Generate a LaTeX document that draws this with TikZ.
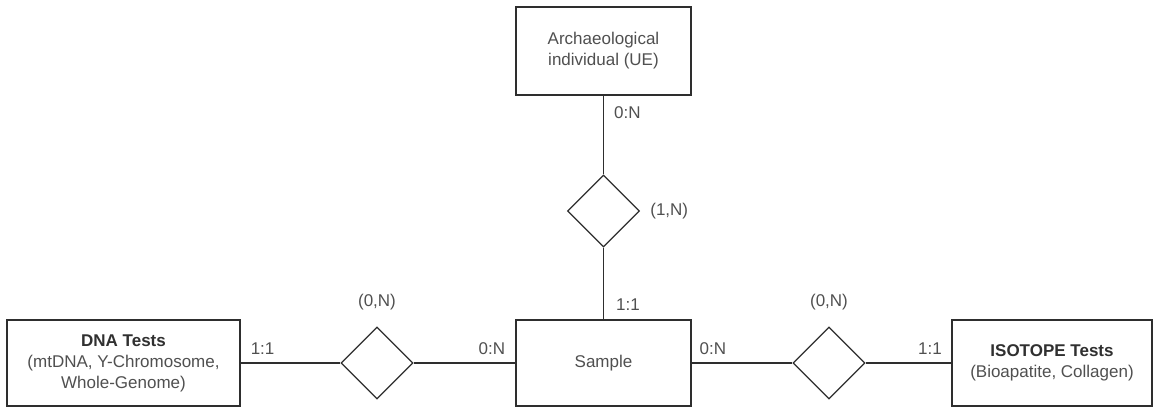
\documentclass[tikz,border=0pt]{standalone}
\usepackage{fontspec}
\setmainfont{Liberation Sans}
\usetikzlibrary{shapes.geometric}
\definecolor{linegray}{HTML}{2E2E2E}
\definecolor{textgray}{HTML}{505050}
\definecolor{titlegray}{HTML}{303030}
\tikzset{ %inner sep = 0.5mm,
  {entity/.style} ={rectangle, draw=linegray, line width=1.3pt, fill=white,
                align=center, text=textgray, inner sep=0,
                font=\fontsize{17}{21}\selectfont},
  {relation/.style} ={diamond, draw=linegray, line width=1.3pt, fill=white,
                inner sep=0, minimum width=72pt, minimum height=72pt},
  {lab/.style} ={text=textgray, inner sep=2pt,
                font=\fontsize{17}{21}\selectfont},
  {link/.style} ={draw=linegray, line width=1.3pt},
 }

\begin{document}
\begin{tikzpicture}[x=1pt,y=1pt]
\useasboundingbox (0,0) rectangle (1154,408);
\node[entity, minimum width=175pt, minimum height=88pt] (ue) at (603.5,357)
    {Archaeological\\individual (UE)};
\node[relation, label={[lab, label distance=8pt]right:(1,N)}] (r1) at (603.5,197) {};
\node[entity, minimum width=175pt, minimum height=86pt] (sample) at (603.5,45) {Sample};
\node[relation, label={[lab, label distance=14pt]above:(0,N)}] (r2) at (377,45) {};
\node[relation, label={[lab, label distance=14pt]above:(0,N)}] (r3) at (829,45) {};
\node[entity, minimum width=233pt, minimum height=86pt] (dna) at (123.5,45)
    {{\color{titlegray}\bfseries DNA Tests}\\(mtDNA, Y-Chromosome,\\Whole-Genome)};
\node[entity, minimum width=200pt, minimum height=86pt] (iso) at (1052,45)
    {{\color{titlegray}\bfseries ISOTOPE Tests}\\(Bioapatite, Collagen)};
\path[link] (ue) edge node[lab, pos=0.21, anchor=west, xshift=8pt] {0:N} (r1)
        (r1) edge node[lab, pos=0.79, anchor=west, xshift=10pt] {1:1} (sample)
        (dna) edge node[lab, pos=0.22, anchor=south, yshift=6pt] {1:1} (r2)
        (r2) edge node[lab, pos=0.77, anchor=south, yshift=6pt] {0:N} (sample)
        (sample) edge node[lab, pos=0.21, anchor=south, yshift=6pt] {0:N} (r3)
        (r3) edge node[lab, pos=0.75, anchor=south, yshift=6pt] {1:1} (iso)
        ;
\end{tikzpicture}
\end{document}
